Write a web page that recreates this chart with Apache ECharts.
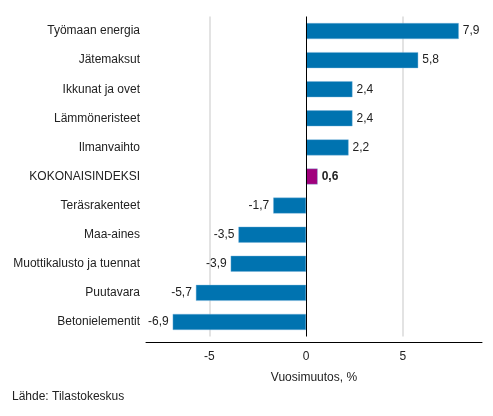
<!DOCTYPE html>
<html>
<head>
<meta charset="utf-8">
<script src="https://cdn.jsdelivr.net/npm/echarts@6/dist/echarts.min.js"></script>
<style>
html, body { margin: 0; padding: 0; background: #fff; }
#chart { width: 493px; height: 416px; }
</style>
</head>
<body>
<div id="chart"></div>
<script>
var categories = ['Työmaan energia', 'Jätemaksut', 'Ikkunat ja ovet', 'Lämmöneristeet', 'Ilmanvaihto',
	'KOKONAISINDEKSI', 'Teräsrakenteet', 'Maa-aines', 'Muottikalusto ja tuennat', 'Puutavara', 'Betonielementit'];
var values = [7.9, 5.8, 2.4, 2.4, 2.2, 0.6, -1.7, -3.5, -3.9, -5.7, -6.9];
var tickValues = [-5, 0, 5];
var totalName = 'KOKONAISINDEKSI';

var font = 'Arial, "Liberation Sans", sans-serif';
var blue = '#0073b0';
var purple = '#a0007c';

var barData = [];
for (var i = 0; i < values.length; i++) {
	var isTotal = categories[i] === totalName;
	barData.push({
		value: values[i],
		itemStyle: { color: isTotal ? purple : blue },
		label: {
			position: values[i] < 0 ? 'left' : 'right',
			fontWeight: isTotal ? 'bold' : 'normal'
		}
	});
}

var chart = echarts.init(document.getElementById('chart'));
chart.setOption({
	animation: false,
	textStyle: { fontFamily: font },
	grid: { left: 146, right: 11, top: 16.5, bottom: 79.5, containLabel: false },
	xAxis: {
		type: 'value',
		min: -8.28,
		max: 9.1,
		offset: 6,
		name: 'Vuosimuutos, %',
		nameLocation: 'middle',
		nameGap: 29,
		nameTextStyle: { color: '#222', fontSize: 12, fontFamily: font },
		axisLine: { show: true, lineStyle: { color: '#000', width: 1 } },
		axisTick: { show: false },
		splitLine: { show: false },
		axisLabel: {
			customValues: tickValues,
			color: '#222',
			fontSize: 12,
			margin: 8,
			fontFamily: font
		}
	},
	yAxis: {
		type: 'category',
		inverse: true,
		data: categories,
		axisLine: { show: false, onZero: false },
		axisTick: { show: false },
		axisLabel: { color: '#222', fontSize: 12, margin: 6, fontFamily: font }
	},
	graphic: [{
		type: 'text',
		left: 12,
		top: 391,
		style: { text: 'Lähde: Tilastokeskus', fill: '#222', font: '12px ' + font }
	}],
	series: [{
		type: 'bar',
		z: 1,
		data: [],
		markLine: {
			silent: true,
			z: 1,
			symbol: 'none',
			label: { show: false },
			lineStyle: { color: '#e3e3e3', width: 2, type: 'solid' },
			data: [{ xAxis: -5 }, { xAxis: 5 }]
		}
	}, {
		type: 'bar',
		z: 3,
		barWidth: 16,
		barGap: '-100%',
		data: barData,
		itemStyle: { borderColor: 'rgba(120,180,220,0.8)', borderWidth: 0.5 },
		label: {
			show: true,
			distance: 4,
			color: '#222',
			fontSize: 12,
			fontFamily: font,
			formatter: function (p) {
				return String(p.value).replace('.', ',');
			}
		},
		markLine: {
			silent: true,
			z: 5,
			symbol: 'none',
			label: { show: false },
			lineStyle: { color: '#000', width: 1, type: 'solid' },
			data: [{ xAxis: 0 }]
		}
	}]
});
</script>
</body>
</html>
